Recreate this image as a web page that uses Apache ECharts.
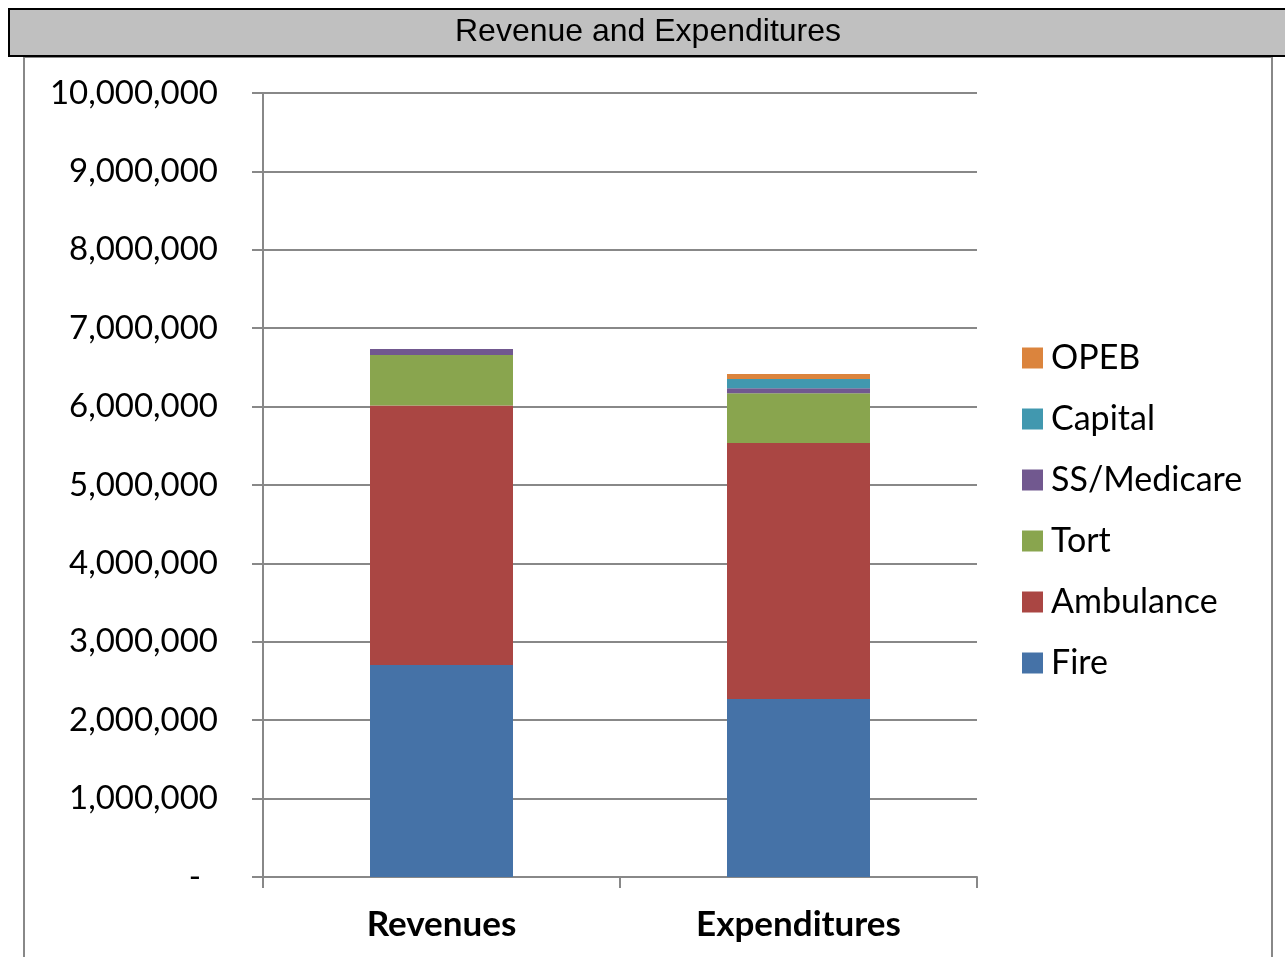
<!DOCTYPE html>
<html>
<head>
<meta charset="utf-8">
<script src="https://cdn.jsdelivr.net/npm/echarts@6/dist/echarts.min.js"></script>
<style>
  html, body { margin: 0; padding: 0; background: #fff; }
  #chart { width: 1285px; height: 957px; }
</style>
</head>
<body>
<div id="chart"></div>
<script>
const categories = ['Revenues', 'Expenditures']
const seriesNames = ['Fire', 'Ambulance', 'Tort', 'SS/Medicare', 'Capital', 'OPEB']
const fire = [2704000, 2270000]
const ambulance = [3310000, 3266000]
const tort = [644000, 634000]
const ssMedicare = [77000, 63000]
const capital = [0, 119000]
const opeb = [0, 64000]
const colors = ['#4572A7', '#AA4643', '#89A54E', '#71588F', '#4198AF', '#DB843D']

const values = [fire, ambulance, tort, ssMedicare, capital, opeb]
const font = 'Lato, "Open Sans", sans-serif'

const chart = echarts.init(document.getElementById('chart'))

const option = {
  animation: false,
  textStyle: { fontFamily: font },
  graphic: [
    {
      type: 'rect',
      shape: { x: 24, y: 57, width: 1248, height: 920 },
      style: { fill: '#fff', stroke: '#888', lineWidth: 2 },
      z: -1
    },
    {
      type: 'rect',
      shape: { x: 9, y: 9, width: 1290, height: 47 },
      style: { fill: '#c0c0c0', stroke: '#000', lineWidth: 2 },
      z: 10
    },
    {
      type: 'text',
      x: 648,
      y: 32,
      style: {
        text: 'Revenue and Expenditures',
        fontSize: 32,
        fontFamily: '"Liberation Sans", Arial, sans-serif',
        fill: '#000',
        align: 'center',
        verticalAlign: 'middle'
      },
      z: 11
    }
  ],
  legend: {
    orient: 'vertical',
    left: 1022,
    top: 341,
    padding: 0,
    itemWidth: 21,
    itemHeight: 21,
    itemGap: 27,
    icon: 'rect',
    data: seriesNames.slice().reverse(),
    textStyle: { fontSize: 34, color: '#000', fontFamily: font, padding: [0, 0, 0, 3] }
  },
  grid: { left: 263, right: 308, top: 93, bottom: 80 },
  xAxis: {
    type: 'category',
    data: categories,
    axisLine: { lineStyle: { color: '#888', width: 2 } },
    axisTick: { show: true, length: 11, lineStyle: { color: '#888', width: 2 } },
    axisLabel: { fontSize: 35, fontWeight: 'bold', color: '#000', margin: 30, fontFamily: font }
  },
  yAxis: {
    type: 'value',
    min: 0,
    max: 10000000,
    interval: 1000000,
    axisLine: { show: true, lineStyle: { color: '#888', width: 2 } },
    axisTick: { show: true, length: 11, lineStyle: { color: '#888', width: 2 } },
    splitLine: { lineStyle: { color: '#888', width: 2 } },
    axisLabel: {
      fontSize: 33,
      color: '#000',
      margin: 45,
      fontFamily: font,
      formatter: v => v === 0 ? '{d|-}' : v.toLocaleString('en-US'),
      rich: { d: { fontSize: 33, padding: [0, 17, 0, 0] } }
    }
  },
  series: seriesNames.map((name, i) => ({
    name: name,
    type: 'bar',
    stack: 'total',
    barWidth: 143,
    itemStyle: { color: colors[i] },
    data: values[i]
  }))
}

chart.setOption(option)
</script>
</body>
</html>
